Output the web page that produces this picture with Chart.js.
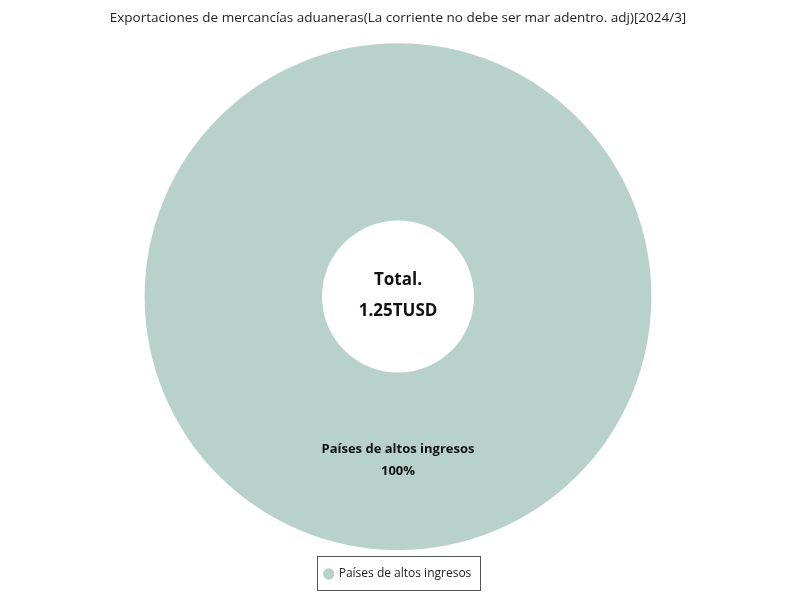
<!DOCTYPE html>
<html>
<head>
<meta charset="utf-8">
<script src="https://cdn.jsdelivr.net/npm/chart.js@4/dist/chart.umd.min.js"></script>
<style>
  html, body { margin: 0; padding: 0; background: #fff; }
  #wrap { width: 800px; height: 600px; }
</style>
</head>
<body>
<div id="wrap"><canvas id="exportChart"></canvas></div>
<script>
// Datos del gráfico
const chartTitle = 'Exportaciones de mercancías aduaneras(La corriente no debe ser mar adentro. adj)[2024/3]';
const categories = ['Países de altos ingresos'];
const values = [1.25];
const colors = ['#b8d2cb'];
const totalLabel = 'Total.';
const totalValue = '1.25TUSD';

const fontFamily = '"Open Sans", "Noto Sans", sans-serif';

// Texto en el centro del anillo
const centerText = {
    id: 'centerText',
    afterDatasetsDraw(chart) {
        const arc = chart.getDatasetMeta(0).data[0];
        if (!arc) return;
        const ctx = chart.ctx;
        ctx.save();
        ctx.fillStyle = '#111';
        ctx.textAlign = 'center';
        ctx.textBaseline = 'middle';
        ctx.font = 'bold 17px ' + fontFamily;
        ctx.fillText(totalLabel, arc.x, arc.y - 16);
        ctx.fillText(totalValue, arc.x, arc.y + 15);
        ctx.restore();
    }
};

// Etiquetas dentro de cada sector
const sliceLabels = {
    id: 'sliceLabels',
    afterDatasetsDraw(chart) {
        const meta = chart.getDatasetMeta(0);
        const sum = values.reduce((a, b) => a + b, 0);
        const ctx = chart.ctx;
        ctx.save();
        ctx.fillStyle = '#111';
        ctx.textAlign = 'center';
        ctx.textBaseline = 'middle';
        ctx.font = 'bold 13px ' + fontFamily;
        meta.data.forEach((arc, i) => {
            const p = arc.tooltipPosition();
            const pct = Math.round(values[i] / sum * 100) + '%';
            ctx.fillText(categories[i], p.x, p.y - 12);
            ctx.fillText(pct, p.x, p.y + 10);
        });
        ctx.restore();
    }
};

// Marco alrededor de la leyenda
const legendBox = {
    id: 'legendBox',
    afterDraw(chart) {
        const lg = chart.legend;
        if (!lg || !lg.legendHitBoxes.length) return;
        const hb = lg.legendHitBoxes[0];
        const ctx = chart.ctx;
        ctx.save();
        ctx.strokeStyle = '#555';
        ctx.lineWidth = 1;
        ctx.strokeRect(Math.round(hb.left - 8) + 0.5, Math.round(hb.top - 12) + 0.5,
            Math.round(hb.width + 16), Math.round(hb.height + 22));
        ctx.restore();
    }
};

new Chart(document.getElementById('exportChart'), {
    type: 'doughnut',
    data: {
        labels: categories,
        datasets: [{
            data: values,
            backgroundColor: colors,
            borderWidth: 0
        }]
    },
    options: {
        responsive: true,
        maintainAspectRatio: false,
        animation: false,
        cutout: '30%',
        layout: { padding: { top: 0, bottom: 10, right: 4 } },
        plugins: {
            title: {
                display: true,
                text: chartTitle,
                color: '#222',
                font: { family: fontFamily, size: 13.5, weight: 'normal' },
                padding: { top: 10, bottom: 17 }
            },
            legend: {
                position: 'bottom',
                labels: {
                    color: '#222',
                    font: { family: fontFamily, size: 12 },
                    usePointStyle: true,
                    pointStyle: 'circle',
                    boxWidth: 8,
                    boxHeight: 8,
                    padding: 18
                }
            },
            tooltip: { enabled: false }
        }
    },
    plugins: [centerText, sliceLabels, legendBox]
});
</script>
</body>
</html>
